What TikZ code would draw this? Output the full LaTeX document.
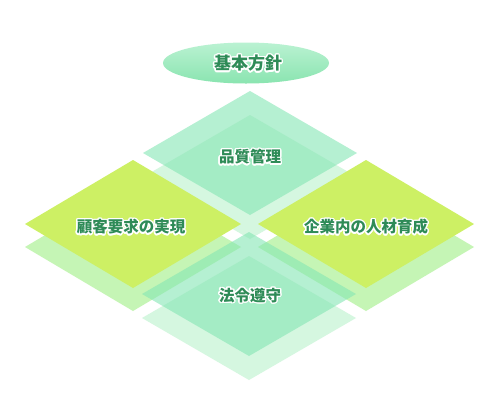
\documentclass[tikz,border=0pt]{standalone}
\usepackage{fontspec}
\newfontfamily\jp{Noto Sans CJK JP}
\definecolor{paleM}{RGB}{213,247,224}
\definecolor{mintC}{RGB}{132,230,180}
\definecolor{limeF}{RGB}{205,240,100}
\definecolor{limeB}{RGB}{197,245,181}
\definecolor{txtgreen}{RGB}{46,139,87}
\definecolor{ellTop}{RGB}{186,242,210}
\definecolor{ellBot}{RGB}{138,228,176}
\newcommand\halo[1]{%
  \setbox0=\hbox{#1}%
  \leavevmode
  \foreach \a in {0,22.5,...,337.5}{%
    \pgfmathsetlengthmacro\hx{1.4pt*cos(\a)}%
    \pgfmathsetlengthmacro\hy{1.4pt*sin(\a)}%
    \rlap{\kern\hx\raisebox{\hy}{\textcolor{white}{\copy0}}}%
  }%
  \box0}
\newcommand\dia[5]{\fill[#1] ({#2-#4},#3) -- (#2,{#3-#5}) -- ({#2+#4},#3) -- (#2,{#3+#5}) -- cycle;}
\begin{document}
\begin{tikzpicture}[x=1pt,y=-1pt,
  lbl/.style={font=\jp\bfseries\fontsize{15.5}{15.5}\selectfont, text=txtgreen, inner sep=0pt},
  ttl/.style={font=\jp\bfseries\fontsize{17}{17}\selectfont, text=txtgreen, inner sep=0pt},
  mintup/.style={fill=mintC, fill opacity=0.6}]
\useasboundingbox (0,0) rectangle (498,400);
\fill[white] (0,0) rectangle (498,400);
% top group
\dia{paleM}{250}{177}{107}{62}
\dia{mintup}{250}{153}{107}{62}
% lime groups back
\dia{limeB}{133}{247}{108}{64}
\dia{limeB}{366}{247}{108}{64}
% lime groups front
\dia{limeF}{133}{224}{108}{64}
\dia{limeF}{366}{224}{108}{64}
% bottom group
\dia{paleM}{249}{318}{107}{62}
\dia{mintup}{249}{294}{107}{62}
% title ellipse
\shade[top color=ellTop, bottom color=ellBot] (246,63) ellipse [x radius=83, y radius=20.5];
\node[ttl] (title) at (248,63.5) {\halo{基本方針}};
\node[lbl] (quality) at (250,157) {\halo{品質管理}};
\node[lbl] (customer) at (131,227) {\halo{顧客要求の実現}};
\node[lbl] (hr) at (366,227) {\halo{企業内の人材育成}};
\node[lbl] (law) at (250,295.5) {\halo{法令遵守}};
\end{tikzpicture}
\end{document}
